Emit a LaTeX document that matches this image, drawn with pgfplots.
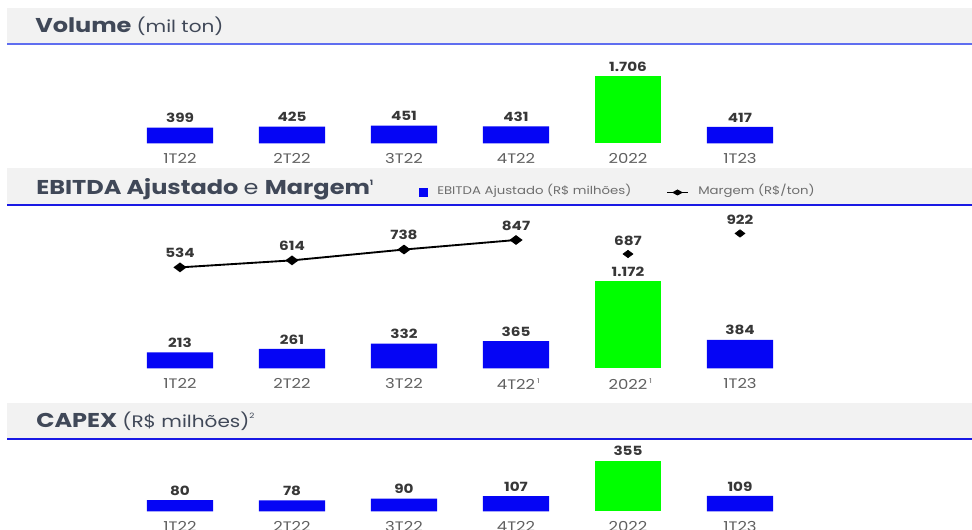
\documentclass[border=0pt]{standalone}
\usepackage{pgfplots}
\pgfplotsset{compat=1.18}
\usepackage{fontspec}
\setmainfont{Poppins}[FakeStretch=1.2]
\definecolor{barblue}{RGB}{5,5,245}
\definecolor{bargreen}{RGB}{0,255,0}
\definecolor{band}{RGB}{242,242,242}
\definecolor{titlec}{RGB}{64,72,88}
\definecolor{linec}{RGB}{25,25,228}
\definecolor{linec1}{RGB}{95,110,240}
\definecolor{catc}{RGB}{95,95,95}
\definecolor{valc}{RGB}{55,55,55}
\definecolor{legc}{RGB}{110,110,110}
\newcommand{\catsup}{\rlap{\hspace{1.5pt}\raisebox{5pt}{\fontsize{5}{5}\selectfont 1}}}
\pgfplotsset{
  panel/.style={scale only axis, width=504pt, xmin=-0.5, xmax=5.5, ymin=0, clip=false,
    anchor=south west,
    axis line style={draw=none}, tick style={draw=none}, ytick=\empty,
    xtick={0,...,5},
    xticklabel style={font=\fontsize{10.3}{11}\selectfont, text=catc, yshift=-4pt},
    point meta=explicit symbolic, nodes near coords,
    every node near coord/.append style={font=\bfseries\fontsize{9.5}{10}\selectfont, text=valc}},
  bluebar/.style={ybar, bar width=0.59, bar shift=0pt, fill=barblue, draw=none},
  greenbar/.style={ybar, bar width=0.59, bar shift=0pt, fill=bargreen, draw=none},
}
\begin{document}
\begin{tikzpicture}
\path[use as bounding box] (0,0) rectangle (729pt,-397.5pt);
\begin{scope}[x=0.75pt,y=-0.75pt]
  % header bands
  \fill[band] (7,8) rectangle (972,44);
  \draw[linec1, line width=1.5pt] (7,44) -- (972,44);
  \fill[band] (7,168) rectangle (972,205);
  \draw[linec, line width=1.5pt] (7,205) -- (972,205);
  \fill[band] (7,403) rectangle (972,439);
  \draw[linec, line width=1.5pt] (7,439) -- (972,439);
  % titles
  \node[anchor=base west, inner sep=0pt, text=titlec, font=\fontsize{15}{17}\selectfont] at (35,33)
    {\bfseries Volume\ \mdseries\fontsize{12.5}{14}\selectfont(mil ton)};
  \node[anchor=base west, inner sep=0pt, text=titlec, font=\fontsize{15}{17}\selectfont] at (36,195)
    {\bfseries EBITDA Ajustado \mdseries e \bfseries Margem\raisebox{7pt}{\fontsize{5.5}{6}\selectfont 1}};
  \node[anchor=base west, inner sep=0pt, text=titlec, font=\fontsize{15}{17}\selectfont] at (36,428)
    {\bfseries CAPEX\ \mdseries\fontsize{12.5}{14}\selectfont(R\$ milhões)\raisebox{7pt}{\fontsize{5.5}{6}\selectfont 2}};
  % legend
  \fill[barblue] (419,188) rectangle (428,197);
  \node[anchor=base west, inner sep=0pt, text=legc, font=\fontsize{8.3}{10}\selectfont] at (437,195)
    {EBITDA Ajustado (R\$ milhões)};
  \draw[black, line width=1.4pt] (667,192.5) -- (688,192.5);
  \fill[black] (672,192.5) -- (677.5,189.5) -- (683,192.5) -- (677.5,195.5) -- cycle;
  \node[anchor=base west, inner sep=0pt, text=legc, font=\fontsize{8.3}{10}\selectfont] at (698,195)
    {Margem (R\$/ton)};
\end{scope}

% Volume
\begin{axis}[panel, at={(93pt,-107.5pt)}, height=70pt, ymax=2365,
  xticklabels={1T22,2T22,3T22,4T22,2022,1T23}]
\addplot[bluebar] coordinates {(0,399)[399] (1,425)[425] (2,451)[451] (3,431)[431] (5,417)[417]};
\addplot[greenbar] coordinates {(4,1706)[1.706]};
\end{axis}

% EBITDA
\begin{axis}[panel, at={(93pt,-276.2pt)}, height=114.75pt, ymax=2062,
  xticklabels={1T22,2T22,3T22,4T22\catsup,2022\catsup,1T23}]
\addplot[bluebar] coordinates {(0,213)[213] (1,261)[261] (2,332)[332] (3,365)[365] (5,384)[384]};
\addplot[greenbar] coordinates {(4,1172)[1.172]};
\end{axis}
\begin{axis}[scale only axis, width=504pt, height=114.75pt, at={(93pt,-276.2pt)}, anchor=south west,
  xmin=-0.5, xmax=5.5, ymin=-620, ymax=1130, hide axis, clip=false,
  point meta=explicit symbolic, nodes near coords,
  every node near coord/.append style={font=\bfseries\fontsize{9.5}{10}\selectfont, text=valc, yshift=3pt}]
\addplot[black, line width=1.4pt, mark=diamond*, mark size=2.8pt, mark options={xscale=1.8, solid}]
  coordinates {(0,534)[534] (1,614)[614] (2,738)[738] (3,847)[847]};
\addplot[only marks, black, mark=diamond*, mark size=2.8pt, mark options={xscale=1.8}]
  coordinates {(4,687)[687] (5,922)[922]};
\end{axis}

% CAPEX
\begin{axis}[panel, at={(93pt,-383.6pt)}, height=49.9pt, ymax=465,
  xticklabels={1T22,2T22,3T22,4T22,2022,1T23}]
\addplot[bluebar] coordinates {(0,80)[80] (1,78)[78] (2,90)[90] (3,107)[107] (5,109)[109]};
\addplot[greenbar] coordinates {(4,355)[355]};
\end{axis}
\end{tikzpicture}
\end{document}
